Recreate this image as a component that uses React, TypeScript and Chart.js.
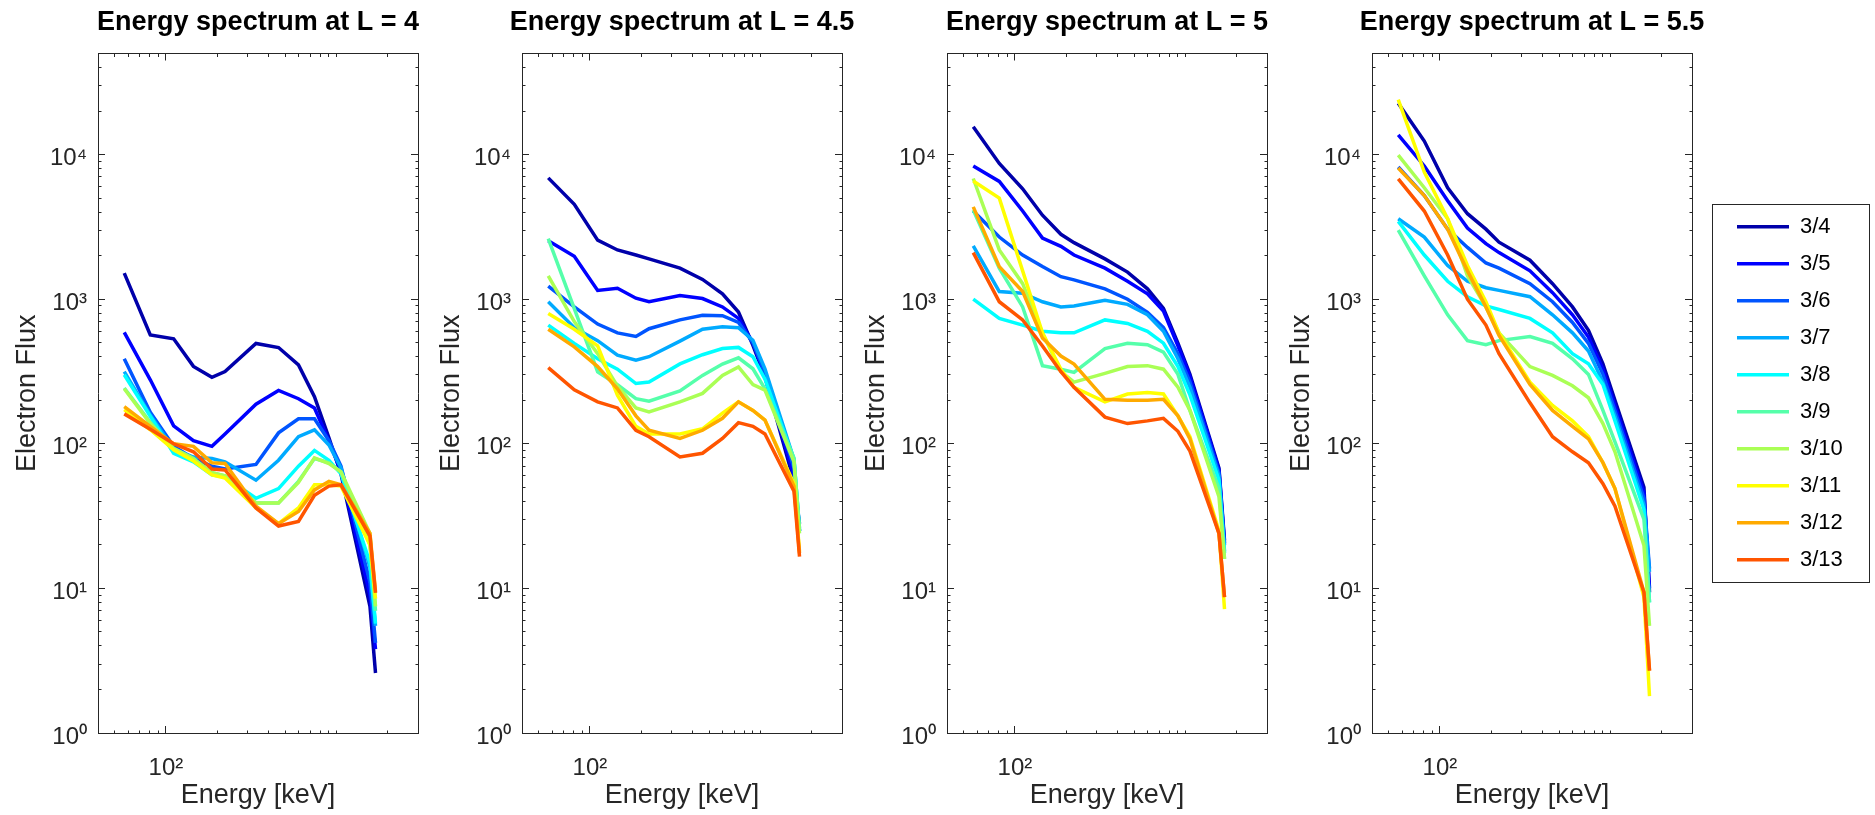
import React, { useEffect, useRef } from 'react';
import { Chart, registerables } from 'chart.js';

Chart.register(...registerables);

// ---------------- data ----------------
const energyKeV = [57, 81, 111, 145, 186, 222, 337, 457, 598, 742, 902, 1061, 1569, 1691];

const dayLabels = ['3/4', '3/5', '3/6', '3/7', '3/8', '3/9', '3/10', '3/11', '3/12', '3/13'];

const jetColors = ['#0000AA', '#0000FF', '#0055FF', '#00AAFF', '#00FFFF', '#55FFAA', '#AAFF55', '#FFFF00', '#FFAA00', '#FF5500'];

const panelTitles = ['Energy spectrum at L = 4', 'Energy spectrum at L = 4.5', 'Energy spectrum at L = 5', 'Energy spectrum at L = 5.5'];

// Electron flux per day (rows follow dayLabels, columns follow energyKeV)
const fluxL4 = [
  [1514, 566, 532, 343, 288, 316, 494, 463, 351, 212, 110, 62, 7.5, 2.6],
  [589, 277, 133, 105, 96, 117, 188, 234, 205, 177, 105, 64, 9, 3.8],
  [387, 165, 96, 79, 70, 67, 72, 119, 149, 149, 105, 70, 11, 4.2],
  [316, 158, 92, 81, 79, 75, 56, 77, 112, 125, 98, 68, 14, 5.5],
  [300, 155, 86, 75, 61, 59, 42, 49, 70, 90, 77, 62, 15, 5.7],
  [243, 141, 91, 78, 63, 60, 39, 39, 55, 79, 74, 64, 20, 7],
  [240, 138, 93, 79, 63, 60, 39, 39, 54, 80, 73, 64, 24, 7.5],
  [172, 125, 91, 76, 61, 58, 36, 28, 36, 52, 52, 51, 20, 8.5],
  [181, 132, 100, 96, 74, 73, 37, 28, 34, 48, 55, 52, 24, 9.5],
  [161, 126, 100, 88, 67, 66, 36, 27, 29, 44, 51, 52, 23, 9.3],
];

const fluxL45 = [
  [6900, 4530, 2560, 2190, 2020, 1900, 1640, 1370, 1090, 815, 480, 290, 55, 28],
  [2540, 1980, 1150, 1190, 1016, 960, 1060, 1010, 884, 736, 500, 295, 60, 25],
  [1230, 884, 673, 585, 552, 625, 719, 774, 768, 690, 500, 310, 68, 25],
  [960, 635, 517, 410, 378, 400, 513, 620, 645, 635, 520, 330, 78, 26],
  [662, 495, 387, 328, 261, 267, 357, 413, 456, 464, 400, 280, 78, 25],
  [2620, 860, 315, 256, 205, 197, 232, 297, 356, 393, 330, 240, 80, 25],
  [1450, 700, 420, 250, 177, 166, 195, 223, 297, 340, 257, 235, 75, 24],
  [795, 620, 475, 217, 132, 117, 117, 127, 163, 195, 170, 146, 53, 18],
  [620, 468, 342, 240, 156, 124, 109, 124, 150, 195, 170, 146, 51, 17.5],
  [336, 236, 195, 177, 124, 112, 81, 86, 109, 140, 132, 117, 47, 16.6],
];

const fluxL5 = [
  [15600, 8690, 5800, 3810, 2810, 2460, 1900, 1540, 1180, 862, 496, 302, 68, 21.5],
  [8340, 6520, 4070, 2650, 2320, 2020, 1640, 1330, 1090, 828, 475, 290, 66, 20.6],
  [4070, 2690, 2020, 1680, 1430, 1360, 1180, 1000, 812, 635, 420, 267, 63, 20],
  [2340, 1130, 1100, 960, 884, 898, 984, 921, 780, 600, 387, 246, 60, 18],
  [1000, 736, 662, 600, 585, 585, 719, 680, 600, 496, 342, 217, 56, 17.5],
  [4130, 1640, 884, 347, 328, 312, 456, 495, 484, 431, 302, 170, 49, 16],
  [6830, 2190, 1280, 585, 315, 267, 307, 342, 347, 328, 246, 170, 43, 16],
  [6560, 5000, 1570, 585, 328, 246, 195, 221, 226, 221, 156, 112, 25, 7.2],
  [4350, 1680, 1130, 538, 404, 356, 203, 200, 200, 203, 156, 108, 24, 8.7],
  [2100, 960, 719, 475, 315, 246, 153, 138, 144, 150, 122, 89, 24, 8.7],
];

const fluxL55 = [
  [22600, 12400, 5900, 3900, 3050, 2480, 1860, 1280, 884, 610, 357, 200, 50, 9.4],
  [13700, 8340, 4800, 3100, 2420, 2100, 1570, 1110, 780, 547, 328, 184, 46, 10],
  [8200, 5210, 3050, 2280, 1780, 1640, 1280, 960, 690, 495, 302, 170, 42, 13.7],
  [3600, 2690, 1710, 1330, 1200, 1150, 1040, 780, 585, 438, 267, 156, 38, 13],
  [3450, 2020, 1330, 1040, 898, 848, 736, 585, 420, 357, 257, 144, 35, 8],
  [3000, 1450, 780, 517, 484, 517, 552, 495, 387, 302, 170, 103, 30, 8],
  [9900, 5900, 3600, 1450, 884, 585, 342, 297, 252, 208, 138, 88, 19.8, 5.5],
  [24000, 7560, 3600, 1710, 960, 585, 267, 184, 144, 112, 74, 49, 8.7, 1.8],
  [8070, 5210, 3050, 1570, 884, 561, 257, 170, 132, 108, 74, 49, 9.4, 2.7],
  [6800, 4070, 2020, 1000, 662, 420, 192, 112, 88, 74, 53, 37, 9.4, 2.7],
];

const panelFlux = [fluxL4, fluxL45, fluxL5, fluxL55];

// axis ranges and ticks
const xRange = [40, 3000];
const yRange = [1, 50000];
const xTickValues = [40, 50, 60, 70, 80, 90, 100, 200, 300, 400, 500, 600, 700, 800, 900, 1000, 2000, 3000];
const yTickValues = [
  1, 2, 3, 4, 5, 6, 7, 8, 9,
  10, 20, 30, 40, 50, 60, 70, 80, 90,
  100, 200, 300, 400, 500, 600, 700, 800, 900,
  1000, 2000, 3000, 4000, 5000, 6000, 7000, 8000, 9000,
  10000, 20000, 30000, 40000, 50000,
];
const xMajorTicks = [100];
const yMajorTicks = [1, 10, 100, 1000, 10000];
const xTickLabels: Record<number, string> = { 100: '10²' };
const yTickLabels: Record<number, string> = { 1: '10⁰', 10: '10¹', 100: '10²', 1000: '10³', 10000: '10⁴' };

// ---------------- layout / style ----------------
const FONT = "'Liberation Sans', Arial, Helvetica, sans-serif";
const AXIS_COLOR = '#262626';
const CANVAS_H = 815;
const AREA_TOP = 53.5;
const AREA_BOTTOM = 733;
const TITLE_SIZE = 27;
const TITLE_PAD_TOP = 6;
const TITLE_BOX = TITLE_SIZE * 1.2 + TITLE_PAD_TOP;
const MAJOR_TICK = 7;
const MINOR_TICK = 3.5;
const LEGEND_FONT = 22;
const LEGEND_PAD = 15;

const panels = [
  { canvasLeft: 0, canvasW: 516, yW: 98, y2W: 98, legend: false },
  { canvasLeft: 424, canvasW: 516, yW: 98, y2W: 98, legend: false },
  { canvasLeft: 849, canvasW: 516, yW: 98, y2W: 98, legend: false },
  { canvasLeft: 1193, canvasW: 678, yW: 179, y2W: 30, legend: true },
];

const legendWidthPlugin = {
  id: 'legendWidthFix',
  beforeLayout(chart: any) {
    const lg = chart.legend;
    if (lg && !lg.__fixed) {
      const orig = lg.fit;
      const w = chart.options.__legendW;
      lg.fit = function () {
        orig.call(this);
        this.width = w;
      };
      lg.__fixed = true;
    }
  },
};

const legendBoxPlugin = {
  id: 'legendBox',
  afterDraw(chart: any) {
    const lg = chart.legend;
    if (!lg || !lg.legendHitBoxes || !lg.legendHitBoxes.length) return;
    const hb = lg.legendHitBoxes;
    const x0 = lg.left - 10.5;
    const y0 = hb[0].top + LEGEND_FONT / 2 - 23;
    const y1 = hb[hb.length - 1].top + LEGEND_FONT / 2 + 22;
    const ctx = chart.ctx;
    ctx.save();
    ctx.strokeStyle = AXIS_COLOR;
    ctx.lineWidth = 1;
    ctx.strokeRect(Math.round(x0) + 0.5, Math.round(y0) + 0.5, 157, Math.round(y1 - y0));
    ctx.restore();
  },
};

function makeAxis(kind: 'x' | 'x2' | 'y' | 'y2', p: any) {
  const isX = kind === 'x' || kind === 'x2';
  const tickList = isX ? xTickValues : yTickValues;
  const majors = isX ? xMajorTicks : yMajorTicks;
  const labels = isX ? xTickLabels : yTickLabels;
  const innerStart = kind === 'y' || kind === 'x2';
  const minorDash = innerStart ? [0, MAJOR_TICK - MINOR_TICK, MINOR_TICK, 40] : [MINOR_TICK, 40];
  const position = { x: 'bottom', x2: 'top', y: 'left', y2: 'right' }[kind];
  const showLabels = kind === 'x' || kind === 'y';
  const axis: any = {
    type: 'logarithmic',
    position,
    min: isX ? xRange[0] : yRange[0],
    max: isX ? xRange[1] : yRange[1],
    afterBuildTicks: (s: any) => {
      s.ticks = tickList.map((v) => ({ value: v, major: majors.includes(v) }));
    },
    afterFit: (s: any) => {
      if (kind === 'x') s.height = CANVAS_H - AREA_BOTTOM;
      else if (kind === 'x2') s.height = AREA_TOP - TITLE_BOX;
      else if (kind === 'y') s.width = p.yW;
      else s.width = p.y2W;
    },
    border: { display: true, color: AXIS_COLOR, width: 1 },
    grid: {
      display: true,
      drawOnChartArea: false,
      drawTicks: true,
      tickLength: -MAJOR_TICK,
      tickWidth: 1,
      color: AXIS_COLOR,
      tickColor: AXIS_COLOR,
      tickBorderDash: (c: any) => (c.tick && majors.includes(c.tick.value) ? [] : minorDash),
    },
    ticks: {
      display: showLabels,
      autoSkip: false,
      maxRotation: 0,
      minRotation: 0,
      color: AXIS_COLOR,
      font: { family: FONT, size: 24 },
      padding: kind === 'x' ? 28 : 18,
      labelOffset: kind === 'y' ? 4 : 0,
      callback: (v: any) => labels[Number(v)] ?? '',
    },
  };
  if (kind === 'x') {
    axis.title = {
      display: true,
      text: 'Energy [keV]',
      color: AXIS_COLOR,
      font: { family: FONT, size: 27 },
      padding: { top: 0, bottom: 3 },
    };
  }
  if (kind === 'y') {
    axis.title = {
      display: true,
      text: 'Electron Flux',
      color: AXIS_COLOR,
      font: { family: FONT, size: 27 },
      padding: { top: 11 + (p.yW - 98), bottom: 0 },
    };
  }
  return axis;
}

function buildConfig(i: number): any {
  const p = panels[i];
  const flux = panelFlux[i];
  const datasets = dayLabels.map((d, k) => ({
    label: d,
    data: energyKeV.map((e, j) => ({ x: e, y: flux[k][j] })),
    borderColor: jetColors[k],
    backgroundColor: jetColors[k],
    borderWidth: 3.5,
    pointRadius: 0,
    pointHoverRadius: 0,
    fill: false,
    tension: 0,
    order: dayLabels.length - k,
  }));
  const legendW = p.canvasW - p.yW - 320 - p.y2W;
  return {
    type: 'line',
    data: { datasets },
    options: {
      __legendW: legendW,
      responsive: false,
      animation: false,
      devicePixelRatio: 1,
      layout: { padding: 0 },
      events: [],
      plugins: {
        title: {
          display: true,
          text: panelTitles[i],
          color: '#000',
          font: { family: FONT, size: TITLE_SIZE, weight: 'bold' },
          padding: { top: TITLE_PAD_TOP, bottom: 0 },
          fullSize: true,
        },
        legend: p.legend
          ? {
              display: true,
              position: 'right',
              fullSize: false,
              align: 'center',
              labels: {
                usePointStyle: true,
                pointStyle: 'line',
                pointStyleWidth: 52,
                padding: LEGEND_PAD,
                color: '#000',
                font: { family: FONT, size: LEGEND_FONT },
                sort: (a: any, b: any) => a.datasetIndex - b.datasetIndex,
              },
            }
          : { display: false },
        tooltip: { enabled: false },
      },
      scales: {
        x: makeAxis('x', p),
        x2: makeAxis('x2', p),
        y: makeAxis('y', p),
        y2: makeAxis('y2', p),
      },
    },
    plugins: p.legend ? [legendWidthPlugin, legendBoxPlugin] : [],
  };
}

export default function App() {
  const r0 = useRef<HTMLCanvasElement>(null);
  const r1 = useRef<HTMLCanvasElement>(null);
  const r2 = useRef<HTMLCanvasElement>(null);
  const r3 = useRef<HTMLCanvasElement>(null);
  const refs = [r0, r1, r2, r3];

  useEffect(() => {
    Chart.defaults.font.family = FONT;
    const charts = refs.map((r, i) => new Chart(r.current as HTMLCanvasElement, buildConfig(i)));
    return () => charts.forEach((c) => c.destroy());
  }, []);

  return (
    <div style={{ position: 'absolute', left: 0, top: 0, width: 1875, height: CANVAS_H, background: '#fff', overflow: 'hidden' }}>
      {panels.map((p, i) => (
        <canvas
          key={i}
          ref={refs[i]}
          width={p.canvasW}
          height={CANVAS_H}
          style={{ position: 'absolute', left: p.canvasLeft, top: 0, width: p.canvasW, height: CANVAS_H }}
        />
      ))}
    </div>
  );
}
